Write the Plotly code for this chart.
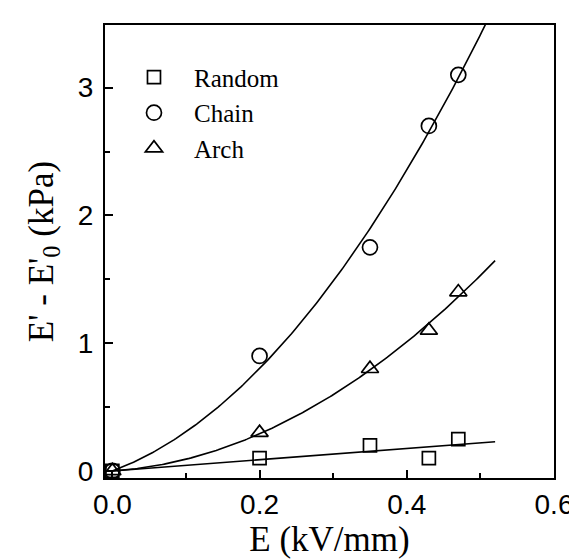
import numpy as np
import plotly.graph_objects as go

# ---- data ----
E_field = [0.0, 0.20, 0.35, 0.43, 0.47]          # kV/mm
random_vals = [0.0, 0.10, 0.20, 0.10, 0.25]      # kPa
chain_vals = [0.0, 0.90, 1.75, 2.70, 3.10]       # kPa
arch_vals = [0.0, 0.30, 0.80, 1.10, 1.40]        # kPa
fit_end = 0.52
x_ticks = [0.0, 0.2, 0.4, 0.6]
y_ticks = [0, 1, 2, 3]

x = np.array(E_field)


def fit_linear0(y):
    y = np.array(y)
    a = (x * y).sum() / (x * x).sum()
    return lambda t: a * t


def fit_quad0(y):
    y = np.array(y)
    A = np.vstack([x, x ** 2]).T
    coef, *_ = np.linalg.lstsq(A, y, rcond=None)
    return lambda t: coef[0] * t + coef[1] * t ** 2


xf = np.linspace(0, fit_end, 200)

fig = go.Figure()

fits = [fit_linear0(random_vals), fit_quad0(chain_vals), fit_quad0(arch_vals)]
for f in fits:
    fig.add_trace(go.Scatter(x=xf, y=f(xf), mode="lines",
                             line=dict(color="black", width=1.6),
                             showlegend=False, hoverinfo="skip"))

series = [("Random", random_vals, "square-open", 13),
          ("Chain", chain_vals, "circle-open", 15),
          ("Arch", arch_vals, "triangle-up-open", 15)]
for name, vals, sym, sz in series:
    fig.add_trace(go.Scatter(x=E_field, y=vals, mode="markers", name=name,
                             marker=dict(symbol=sym, size=sz, color="black",
                                         line=dict(color="black", width=1.7)),
                             cliponaxis=False))

tickfont = dict(family="Liberation Sans, Arial", size=28, color="black")
serif = "Liberation Serif, Times New Roman"

fig.update_layout(
    width=577, height=559,
    margin=dict(l=97, r=24, t=17, b=89),
    paper_bgcolor="white", plot_bgcolor="white",
    showlegend=True,
    legend=dict(x=0.02, y=0.935, xanchor="left", yanchor="top",
                bgcolor="rgba(0,0,0,0)", itemwidth=70,
                font=dict(family=serif, size=25, color="black"),
                tracegroupgap=0),
    xaxis=dict(range=[-0.01, 0.6], tickvals=x_ticks, tickformat=".1f",
               ticks="inside", ticklen=8, tickwidth=1.5, tickcolor="black",
               minor=dict(dtick=0.1, tick0=0, ticks="inside", ticklen=5,
                          tickwidth=1.5, tickcolor="black"),
               showline=True, linecolor="black", linewidth=2, mirror=True,
               showgrid=False, zeroline=False, tickfont=tickfont,
               title=dict(text="E (kV/mm)",
                          font=dict(family=serif, size=35, color="black"),
                          standoff=2)),
    yaxis=dict(range=[-0.055, 3.49], tickvals=y_ticks,
               ticks="inside", ticklen=8, tickwidth=1.5, tickcolor="black",
               minor=dict(dtick=0.5, tick0=0, ticks="inside", ticklen=5,
                          tickwidth=1.5, tickcolor="black"),
               showline=True, linecolor="black", linewidth=2, mirror=True,
               showgrid=False, zeroline=False, tickfont=tickfont,
               ticklabelstandoff=4,
               title=dict(text="E' - E'<sub>0</sub> (kPa)",
                          font=dict(family=serif, size=35, color="black"),
                          standoff=14)),
)

fig.write_html("out.html")
